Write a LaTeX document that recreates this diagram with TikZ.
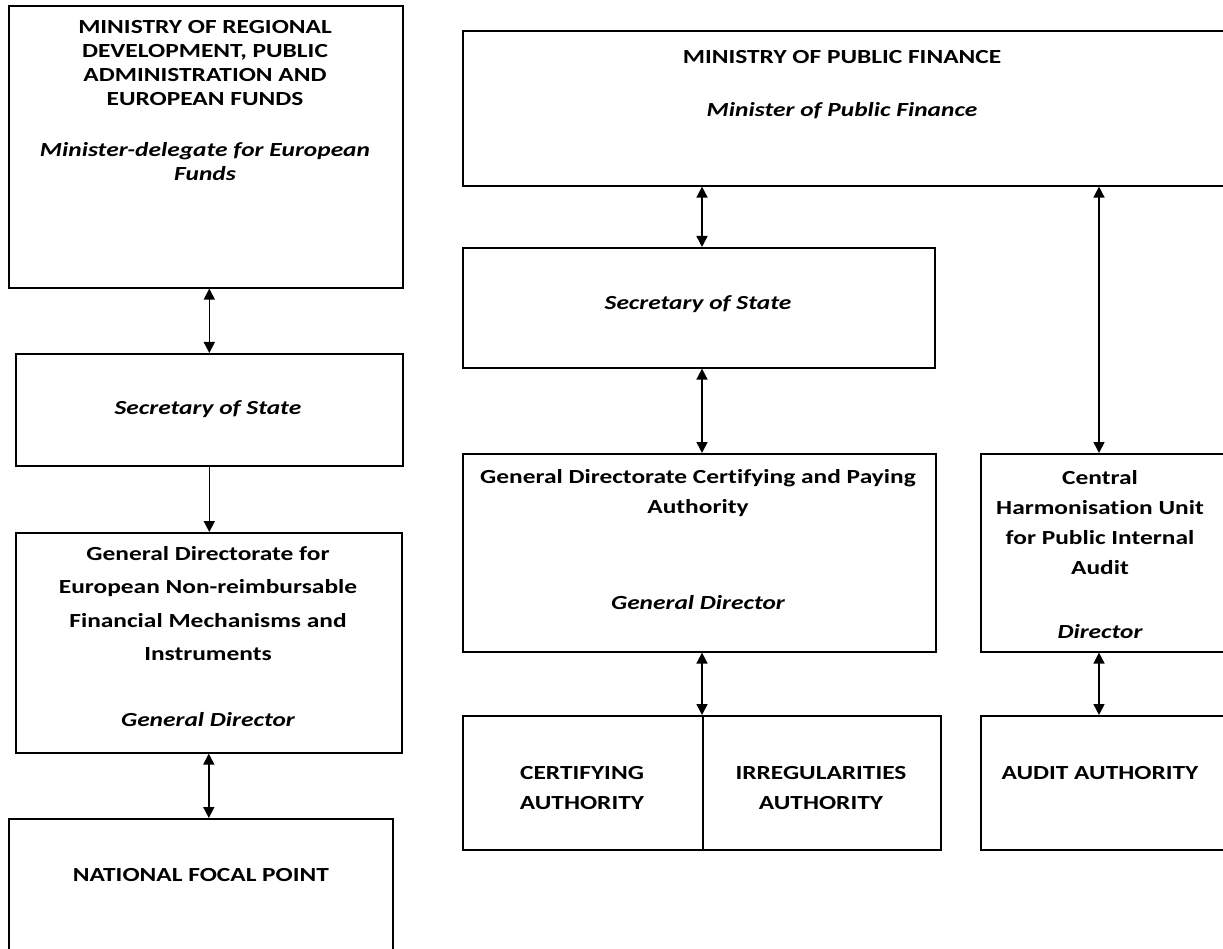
\documentclass[tikz,border=0pt]{standalone}
\usepackage{fontspec}
\setmainfont{Carlito}[FakeStretch=1.27, Ligatures=NoCommon]
\usetikzlibrary{arrows.meta}

\tikzset{
  unit/.style={draw, line width=1.6pt, anchor=north west, inner sep=0pt},
  caps/.style={font=\fontsize{20}{24}\selectfont\bfseries, align=center},
  title/.style={font=\fontsize{20}{33.5}\selectfont\bfseries, align=center},
  post/.style={font=\fontsize{20}{24}\selectfont\bfseries\itshape, align=center},
  both/.style={line width=1.6pt, {Triangle[length=11pt,width=11pt]}-{Triangle[length=11pt,width=11pt]}},
  down/.style={line width=1.6pt, -{Triangle[length=11pt,width=11pt]}}
}

\begin{document}
\begin{tikzpicture}[x=1pt, y=-1pt]
    \useasboundingbox (0,0) rectangle (1223,949);
    \clip (0,0) rectangle (1223,949);

    % left column
    \node[unit, minimum width=394pt, minimum height=282pt] (mrd) at (8,5) {};
    \node[unit, minimum width=387pt, minimum height=112pt] (sesl) at (15,353) {};
    \node[unit, minimum width=386pt, minimum height=220pt] (dgl) at (15,532) {};
    \node[unit, minimum width=384pt, minimum height=170pt] (nfp) at (8,818) {};

    \node[caps] (mrdname) at (205,63) {MINISTRY OF REGIONAL\\DEVELOPMENT, PUBLIC\\ADMINISTRATION AND\\EUROPEAN FUNDS};
    \node[post] (mrdhead) at (205,162) {Minister-delegate for European\\Funds};
    \node[post] (seslhead) at (208,409) {Secretary of State};
    \node[title] (dglname) at (208,603.5) {General Directorate for\\European Non-reimbursable\\Financial Mechanisms and\\Instruments};
    \node[post] (dglhead) at (208,720) {General Director};
    \node[caps] (nfpname) at (201,875) {NATIONAL FOCAL POINT};

    % right part
    \node[unit, minimum width=800pt, minimum height=155pt] (mpf) at (462,30) {};
    \node[unit, minimum width=472pt, minimum height=120pt] (sesr) at (462,247) {};
    \node[unit, minimum width=473pt, minimum height=198pt] (dgc) at (462,453) {};
    \node[unit, minimum width=240pt, minimum height=134pt] (cert) at (462,715) {};
    \node[unit, minimum width=238pt, minimum height=134pt] (irreg) at (702,715) {};
    \node[unit, minimum width=260pt, minimum height=198pt] (chu) at (980,453) {};
    \node[unit, minimum width=260pt, minimum height=134pt] (aa) at (980,715) {};

    \node[caps] (mpfname) at (842,57) {MINISTRY OF PUBLIC FINANCE};
    \node[post] (mpfhead) at (842,111) {Minister of Public Finance};
    \node[post] (sesrhead) at (698,304) {Secretary of State};
    \node[caps, font=\fontsize{20}{30}\selectfont\bfseries] (dgcname) at (698,493) {General Directorate Certifying and Paying\\Authority};
    \node[post] (dgchead) at (698,603) {General Director};
    \node[caps, font=\fontsize{20}{30}\selectfont\bfseries] (certname) at (582,788) {CERTIFYING\\AUTHORITY};
    \node[caps, font=\fontsize{20}{30}\selectfont\bfseries] (irregname) at (821,788) {IRREGULARITIES\\AUTHORITY};
    \node[caps, font=\fontsize{20}{30}\selectfont\bfseries] (chuname) at (1100,523) {Central\\Harmonisation Unit\\for Public Internal\\Audit};
    \node[post] (chuhead) at (1100,632) {Director};
    \node[caps] (aaname) at (1100,773) {AUDIT AUTHORITY};

    \coordinate (chutop) at ([xshift=119pt]chu.north west);
    \coordinate (chubot) at ([xshift=119pt]chu.south west);

    % links
    \draw[both] (mrd.south -| sesl.north) -- (sesl.north);
    \draw[down] (sesl.south) -- (sesl.south |- dgl.north);
    \draw[both] (dgl.south) -- (dgl.south |- nfp.north);
    \draw[both] (mpf.south -| irreg.north west) -- (sesr.north -| irreg.north west);
    \draw[both] (sesr.south -| irreg.north west) -- (dgc.north -| irreg.north west);
    \draw[both] (dgc.south -| irreg.north west) -- (irreg.north west);
    \draw[both] (mpf.south -| chutop) -- (chutop);
    \draw[both] (chubot) -- (chubot |- aa.north);
\end{tikzpicture}
\end{document}
